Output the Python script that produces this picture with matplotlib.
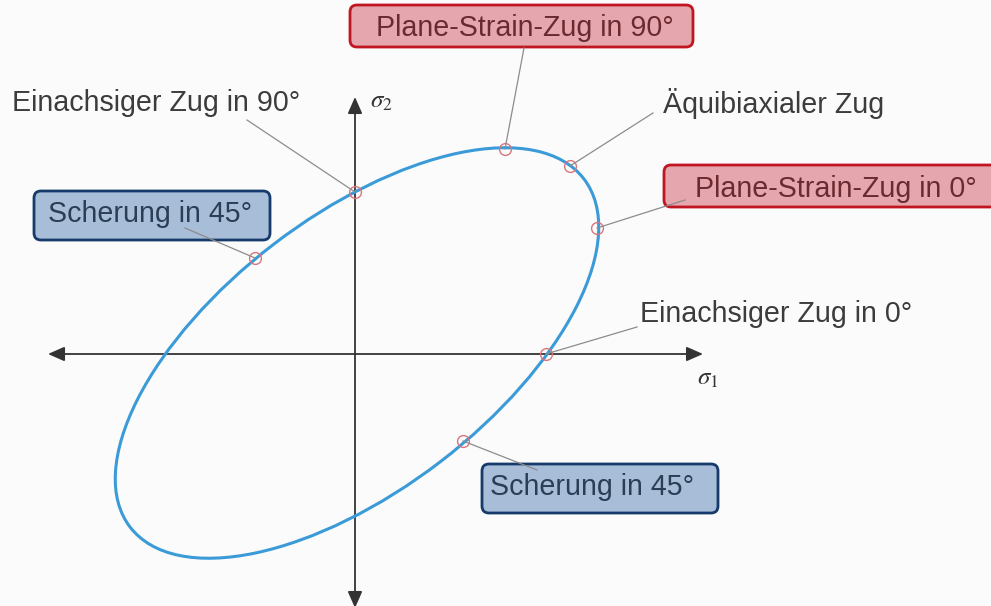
import numpy as np
import matplotlib
matplotlib.use('Agg')
import matplotlib.pyplot as plt
from matplotlib.patches import Ellipse, FancyBboxPatch

plt.rcParams['font.family'] = ['Liberation Sans', 'DejaVu Sans']
plt.rcParams['mathtext.fontset'] = 'stix'

# yield locus (ellipse in sigma1/sigma2 plane)
ell_center = (2, 1)
ell_a = 286.0      # semi major axis
ell_b = 137.0      # semi minor axis
ell_angle = 37.5   # tilt of major axis, degrees

# marked stress states on the locus
labels = ['Einachsiger Zug in 0°', 'Einachsiger Zug in 90°', 'Plane-Strain-Zug in 90°',
          'Äquibiaxialer Zug', 'Plane-Strain-Zug in 0°', 'Scherung in 45°', 'Scherung in 45°']
sig1 = [191, 0, 150, 215, 242, -100, 108]
sig2 = [0, 162, 205, 188, 126, 96, -87]
styles = ['plain', 'plain', 'red', 'plain', 'red', 'blue', 'blue']

# label layout: end of leader line, text start (left, baseline), box (x0, y0, w, h)
leader_end = [(282, 27), (-108, 234), (169, 306), (298, 241), (330, 154), (-170, 126), (182, -116)]
text_pos = [(285, 32), (-343, 243), (21, 318), (308, 241), (340, 157), (-307, 132), (135, -141)]
boxes = [None, None, (-5, 307, 343, 42), None, (309, 147, 340, 42),
         (-321, 114, 236, 49), (127, -159, 236, 49)]

box_style = {
    'red': dict(fc='#e6a6ad', ec='#bf1622', tc='#6a2a2f'),
    'blue': dict(fc='#a8bed8', ec='#173a6c', tc='#2c3e55'),
    'plain': dict(fc='none', ec='none', tc='#3c3c3c'),
}

fig = plt.figure(figsize=(9.91, 6.06), dpi=100)
fig.patch.set_facecolor('#fbfbfb')
ax = fig.add_axes([0, 0, 1, 1])
ax.set_xlim(-355, 636)
ax.set_ylim(-252, 354)
ax.axis('off')

# axes with arrows
arrow = dict(arrowstyle='<|-|>,head_length=0.5,head_width=0.22', color='#333333',
             lw=1.3, mutation_scale=20, shrinkA=0, shrinkB=0)
ax.annotate('', xy=(348, 0), xytext=(-307, 0), arrowprops=arrow)
ax.annotate('', xy=(0, 257), xytext=(0, -254), arrowprops=arrow)
ax.text(342, -31, r'$\sigma_1$', fontsize=18, color='#333333')
ax.text(15, 246, r'$\sigma_2$', fontsize=18, color='#333333')

# yield locus
ax.add_patch(Ellipse(ell_center, 2 * ell_a, 2 * ell_b, angle=ell_angle,
                     fill=False, ec='#3a9bd8', lw=2.2, zorder=3))

for i in range(len(labels)):
    st = box_style[styles[i]]
    ax.plot([sig1[i], leader_end[i][0]], [sig2[i], leader_end[i][1]],
            color='#8c8c8c', lw=0.9, zorder=5.5)
    ax.plot(sig1[i], sig2[i], 'o', ms=8.5, mfc='none', mec='#d9757c', mew=1.0, zorder=4)
    if boxes[i] is not None:
        x0, y0, w, h = boxes[i]
        ax.add_patch(FancyBboxPatch((x0, y0), w, h, boxstyle='round,pad=0,rounding_size=7',
                                    fc=st['fc'], ec=st['ec'], lw=2.0, zorder=5, clip_on=False))
    ax.text(text_pos[i][0], text_pos[i][1], labels[i], fontsize=20.6, color=st['tc'],
            ha='left', va='baseline', zorder=6)

fig.savefig('out.png', dpi=100, facecolor=fig.get_facecolor())
